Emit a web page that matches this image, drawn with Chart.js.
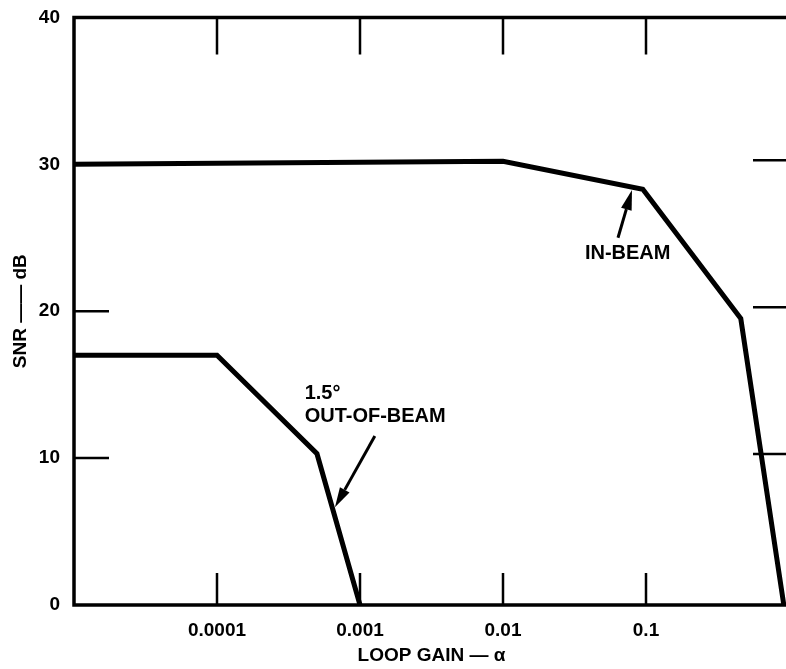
<!DOCTYPE html>
<html>
<head>
<meta charset="utf-8">
<script src="https://cdn.jsdelivr.net/npm/chart.js@4.4.1/dist/chart.umd.min.js"></script>
<style>
  html, body { margin: 0; padding: 0; background: #fff; overflow: hidden; }
  #wrap { position: absolute; left: 0; top: 0; width: 800px; height: 669px; }
</style>
</head>
<body>
<div id="wrap"><canvas id="snrChart" width="800" height="669"></canvas></div>
<script>
// SNR vs loop gain, in-beam and 1.5 deg out-of-beam

const xTickValues = [0.0001, 0.001, 0.01, 0.1];
const xTickLabels = ['0.0001', '0.001', '0.01', '0.1'];
const yTickValues = [0, 10, 20, 30, 40];

const inBeamGain = [0.00001, 0.01, 0.095, 0.46, 0.92];
const inBeamSnr = [30, 30.2, 28.3, 19.5, 0];

const outBeamGain = [0.00001, 0.0001, 0.0005, 0.001];
const outBeamSnr = [17, 17, 10.3, 0];

// labels + arrows, in data units
const noteTexts = ['1.5°', 'OUT-OF-BEAM', 'IN-BEAM'];
const noteGain = [0.00041, 0.00041, 0.0374];
const noteSnr = [14.4, 12.8, 23.9];

const arrowTail = [[0.00127, 11.5], [0.0637, 25.0]];
const arrowTip = [[0.000668, 6.65], [0.0798, 28.25]];

Chart.defaults.font.family = "'Liberation Sans', Arial, sans-serif";
Chart.defaults.color = '#000';

const toPoints = (xs, ys) => xs.map((v, i) => ({ x: v, y: ys[i] }));

function drawArrow(ctx, x0, y0, x1, y1) {
    const ang = Math.atan2(y1 - y0, x1 - x0);
    const len = 20, half = 5.5;
    const bx = x1 - Math.cos(ang) * len, by = y1 - Math.sin(ang) * len;
    ctx.beginPath();
    ctx.moveTo(x0, y0);
    ctx.lineTo(bx, by);
    ctx.stroke();
    ctx.beginPath();
    ctx.moveTo(x1, y1);
    ctx.lineTo(bx + Math.sin(ang) * half, by - Math.cos(ang) * half);
    ctx.lineTo(bx - Math.sin(ang) * half, by + Math.cos(ang) * half);
    ctx.closePath();
    ctx.fill();
}

const framePlugin = {
    id: 'frame',
    afterDatasetsDraw(chart) {
        const { ctx, chartArea: a, scales: { x, y } } = chart;
        ctx.save();
        ctx.strokeStyle = '#000';
        ctx.fillStyle = '#000';

        // box
        ctx.lineWidth = 3.5;
        ctx.beginPath();
        ctx.moveTo(a.right, a.top);
        ctx.lineTo(a.left, a.top);
        ctx.lineTo(a.left, a.bottom);
        ctx.lineTo(a.right, a.bottom);
        ctx.lineTo(a.right, a.top);
        ctx.stroke();

        // inward ticks
        ctx.lineWidth = 2.5;
        ctx.beginPath();
        xTickValues.forEach(v => {
            const px = x.getPixelForValue(v);
            ctx.moveTo(px, a.top);
            ctx.lineTo(px, a.top + 37);
            ctx.moveTo(px, a.bottom);
            ctx.lineTo(px, a.bottom - 32);
        });
        yTickValues.slice(1, 4).forEach(v => {
            const py = y.getPixelForValue(v);
            ctx.moveTo(a.left, py);
            ctx.lineTo(a.left + 35, py);
            ctx.moveTo(a.right, py - 4);
            ctx.lineTo(a.right - 36, py - 4);
        });
        ctx.stroke();

        // annotations
        ctx.font = "bold 20px 'Liberation Sans', Arial, sans-serif";
        ctx.textAlign = 'left';
        ctx.textBaseline = 'middle';
        noteTexts.forEach((t, i) => {
            ctx.fillText(t, x.getPixelForValue(noteGain[i]), y.getPixelForValue(noteSnr[i]));
        });
        ctx.lineWidth = 3;
        arrowTail.forEach((p, i) => {
            drawArrow(ctx,
                x.getPixelForValue(p[0]), y.getPixelForValue(p[1]),
                x.getPixelForValue(arrowTip[i][0]), y.getPixelForValue(arrowTip[i][1]));
        });
        ctx.restore();
    }
};

const tickFont = { size: 19, weight: 'bold' };

new Chart(document.getElementById('snrChart').getContext('2d'), {
    type: 'line',
    data: {
        datasets: [
            {
                label: 'IN-BEAM',
                data: toPoints(inBeamGain, inBeamSnr),
                borderColor: '#000',
                borderWidth: 5,
                pointRadius: 0,
                tension: 0
            },
            {
                label: '1.5° OUT-OF-BEAM',
                data: toPoints(outBeamGain, outBeamSnr),
                borderColor: '#000',
                borderWidth: 5,
                pointRadius: 0,
                tension: 0
            }
        ]
    },
    options: {
        responsive: false,
        animation: false,
        layout: { padding: { top: 7, right: 11, left: 0, bottom: 0 } },
        plugins: { legend: { display: false }, tooltip: { enabled: false } },
        scales: {
            x: {
                type: 'logarithmic',
                min: 0.00001,
                max: 1,
                grid: { display: false },
                border: { display: false },
                afterBuildTicks: s => { s.ticks = xTickValues.map(v => ({ value: v })); },
                afterFit: s => { s.height = 64; },
                ticks: {
                    autoSkip: false,
                    maxRotation: 0,
                    padding: 6,
                    font: tickFont,
                    callback: v => xTickLabels[xTickValues.indexOf(v)]
                },
                title: {
                    display: true,
                    text: 'LOOP GAIN — α',
                    font: { size: 19, weight: 'bold' },
                    padding: { top: 0, bottom: 2 }
                }
            },
            y: {
                min: 0,
                max: 40,
                grid: { display: false },
                border: { display: false },
                afterBuildTicks: s => { s.ticks = yTickValues.map(v => ({ value: v })); },
                afterFit: s => { s.width = 74; },
                ticks: {
                    padding: 6,
                    font: tickFont,
                    callback: v => String(v)
                },
                title: {
                    display: true,
                    text: 'SNR —— dB',
                    font: { size: 19, weight: 'bold' },
                    padding: { top: 9, bottom: 0 }
                }
            }
        }
    },
    plugins: [framePlugin]
});
</script>
</body>
</html>
